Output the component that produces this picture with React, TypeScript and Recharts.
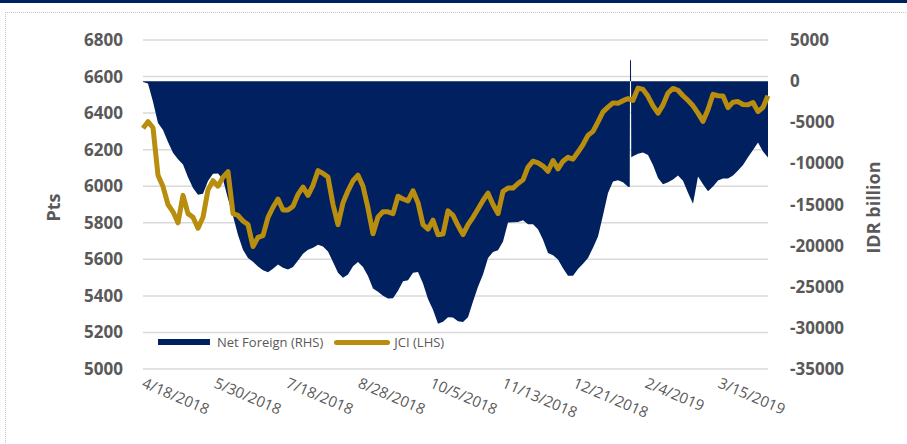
import { ComposedChart, Area, Line, XAxis, YAxis, CartesianGrid, Label } from "recharts";

// JCI index (LHS), one reading every ~2 trading days
const jci = [
  6317, 6353, 6320, 6060, 5998, 5900, 5860, 5800, 5950, 5850,
  5830, 5770, 5830, 5980, 6030, 6000, 6050, 6080, 5850, 5840,
  5810, 5790, 5670, 5720, 5730, 5830, 5885, 5930, 5870, 5870,
  5890, 5955, 5995, 5950, 6005, 6085, 6070, 6050, 5900, 5790,
  5910, 5975, 6030, 6060, 6000, 5880, 5740, 5832, 5860, 5860,
  5850, 5945, 5930, 5920, 5975, 5910, 5790, 5765, 5814, 5735,
  5738, 5865, 5840, 5785, 5735, 5790, 5830, 5875, 5922, 5962,
  5900, 5850, 5972, 5990, 5990, 6015, 6035, 6105, 6137, 6128,
  6110, 6082, 6140, 6095, 6137, 6158, 6148, 6187, 6228, 6278,
  6300, 6352, 6407, 6433, 6456, 6454, 6468, 6479, 6470, 6537,
  6530, 6492, 6440, 6400, 6445, 6510, 6535, 6525, 6495, 6470,
  6440, 6400, 6355, 6420, 6503, 6495, 6493, 6430, 6460, 6463,
  6447, 6446, 6458, 6408, 6432, 6495,
];

// cumulative net foreign flow, IDR billion (RHS)
const netForeign = [
  -100, -300, -2500, -5100, -5950, -7400, -8700, -9500, -10150, -11700,
  -13000, -13800, -13700, -12150, -11250, -11230, -11950, -14300, -16400, -18700,
  -20500, -21500, -21960, -22550, -22980, -23250, -22800, -22300, -22700, -22900,
  -22600, -21800, -21000, -20500, -20250, -19900, -20100, -20700, -22000, -23300,
  -23900, -23500, -22500, -21980, -22600, -23700, -25200, -25600, -26100, -26420,
  -26400, -25500, -24330, -24210, -23300, -23200, -24600, -26500, -27800, -29500,
  -29250, -28700, -28750, -29200, -29300, -28700, -26800, -25000, -23500, -21500,
  -20790, -20560, -19500, -17200, -17150, -17120, -16930, -17400, -17400, -18000,
  -19300, -20900, -21170, -21700, -22750, -23650, -23650, -22850, -22200, -21500,
  -20250, -18900, -16300, -13600, -12200, -12040, -12280, -12840, -9120, -8820,
  -8680, -8980, -10200, -11780, -12530, -12290, -11960, -11480, -12100, -13580,
  -14900, -11600, -12540, -13400, -12800, -12080, -11840, -11840, -11480, -10870,
  -10200, -9270, -8360, -7450, -8560, -9300,
];

// one-day jump in late January
const netSpike = [
  { at: 97.35, value: -12860 },
  { at: 97.4, value: 2550 },
  { at: 97.6, value: 2550 },
  { at: 97.65, value: -9250 },
];

const dateTicks = [0, 14.4, 28.8, 43.2, 57.6, 72, 86.2, 100.6, 115.2];
const dateLabels = [
  "4/18/2018", "5/30/2018", "7/18/2018", "8/28/2018", "10/5/2018",
  "11/13/2018", "12/21/2018", "2/4/2019", "3/15/2019",
];
const ptsTicks = [5000, 5200, 5400, 5600, 5800, 6000, 6200, 6400, 6600, 6800];
const idrTicks = [-35000, -30000, -25000, -20000, -15000, -10000, -5000, 0, 5000];

const NAVY = "#002060";
const GOLD = "#B98D0E";
const TEXT = "#595959";
const FONT = "'Open Sans', sans-serif";

const legendItems = [
  { name: "Net Foreign (RHS)", color: NAVY, kind: "area" },
  { name: "JCI (LHS)", color: GOLD, kind: "line" },
];

const rows: any[] = jci.map((v, i) => ({ i, jci: v, net: netForeign[i] }));
netSpike.forEach((s) => rows.push({ i: s.at, net: s.value }));
rows.sort((a, b) => a.i - b.i);

const DateTick = (props: any) => {
  const { x, y, index } = props;
  const tx = x - 2;
  const ty = y + 18;
  return (
    <text
      x={tx}
      y={ty}
      transform={`rotate(23, ${tx}, ${ty})`}
      fill={TEXT}
      fontSize={15}
      fontFamily={FONT}
      textAnchor="start"
    >
      {dateLabels[index]}
    </text>
  );
};

const axisTitle = (text: string, dx: number) => (props: any) => {
  const vb = props.viewBox;
  const x = vb.x + dx;
  const y = vb.y + vb.height / 2 + 3;
  return (
    <text
      x={x}
      y={y}
      transform={`rotate(-90, ${x}, ${y})`}
      textAnchor="middle"
      dominantBaseline="central"
      fill={TEXT}
      fontSize={18}
      fontWeight={700}
      fontFamily={FONT}
    >
      {text}
    </text>
  );
};

const tickStyle = { fill: TEXT, fontSize: 17, fontWeight: 700, fontFamily: FONT };

export default function App() {
  return (
    <div style={{ position: "absolute", left: 0, top: 0, width: 907, height: 444, background: "#fff", overflow: "hidden" }}>
      <div style={{ position: "absolute", left: 0, top: 0, width: 907, height: 3, background: NAVY }} />
      <div
        style={{
          position: "absolute",
          left: 5,
          top: 12,
          width: 1000,
          height: 1000,
          borderLeft: "1px dotted #c4c4c4",
          borderTop: "1px dotted #c4c4c4",
        }}
      />
      <div style={{ position: "absolute", left: 0, top: 0 }}>
        <ComposedChart width={907} height={444} data={rows} margin={{ top: 40, right: 0, bottom: 0, left: 0 }}>
          <CartesianGrid yAxisId="left" vertical={false} stroke="#d9d9d9" strokeWidth={1.5} />
          <XAxis
            dataKey="i"
            type="number"
            domain={[0, 125]}
            ticks={dateTicks}
            interval={0}
            tick={<DateTick />}
            axisLine={false}
            tickLine={false}
            tickSize={0}
            tickMargin={0}
            height={75}
          />
          <YAxis
            yAxisId="left"
            domain={[5000, 6800]}
            ticks={ptsTicks}
            interval={0}
            width={143}
            axisLine={false}
            tickLine={false}
            tickSize={0}
            tickMargin={20}
            tick={tickStyle}
          >
            <Label content={axisTitle("Pts", 53)} />
          </YAxis>
          <YAxis
            yAxisId="right"
            orientation="right"
            domain={[-35000, 5000]}
            ticks={idrTicks}
            interval={0}
            width={139}
            axisLine={false}
            tickLine={false}
            tickSize={0}
            tickMargin={22}
            tick={tickStyle}
          >
            <Label content={axisTitle("IDR billion", 105)} />
          </YAxis>
          <Area
            yAxisId="right"
            dataKey="net"
            type="linear"
            baseValue={0}
            fill={NAVY}
            fillOpacity={1}
            stroke="none"
            isAnimationActive={false}
          />
          <Line
            yAxisId="left"
            dataKey="jci"
            type="linear"
            stroke={GOLD}
            strokeWidth={5}
            strokeLinejoin="round"
            dot={false}
            connectNulls
            isAnimationActive={false}
          />
        </ComposedChart>
      </div>
      <div
        style={{
          position: "absolute",
          left: 158,
          top: 333,
          display: "flex",
          alignItems: "center",
          fontFamily: FONT,
          fontSize: 13,
          color: TEXT,
        }}
      >
        {legendItems.map((item) => (
          <div key={item.name} style={{ display: "flex", alignItems: "center", marginRight: 11 }}>
            <span
              style={{
                display: "inline-block",
                width: item.kind === "area" ? 52 : 56,
                height: item.kind === "area" ? 6 : 5,
                borderRadius: item.kind === "line" ? 3 : 0,
                background: item.color,
                marginRight: item.kind === "area" ? 7 : 4,
              }}
            />
            <span>{item.name}</span>
          </div>
        ))}
      </div>
    </div>
  );
}
